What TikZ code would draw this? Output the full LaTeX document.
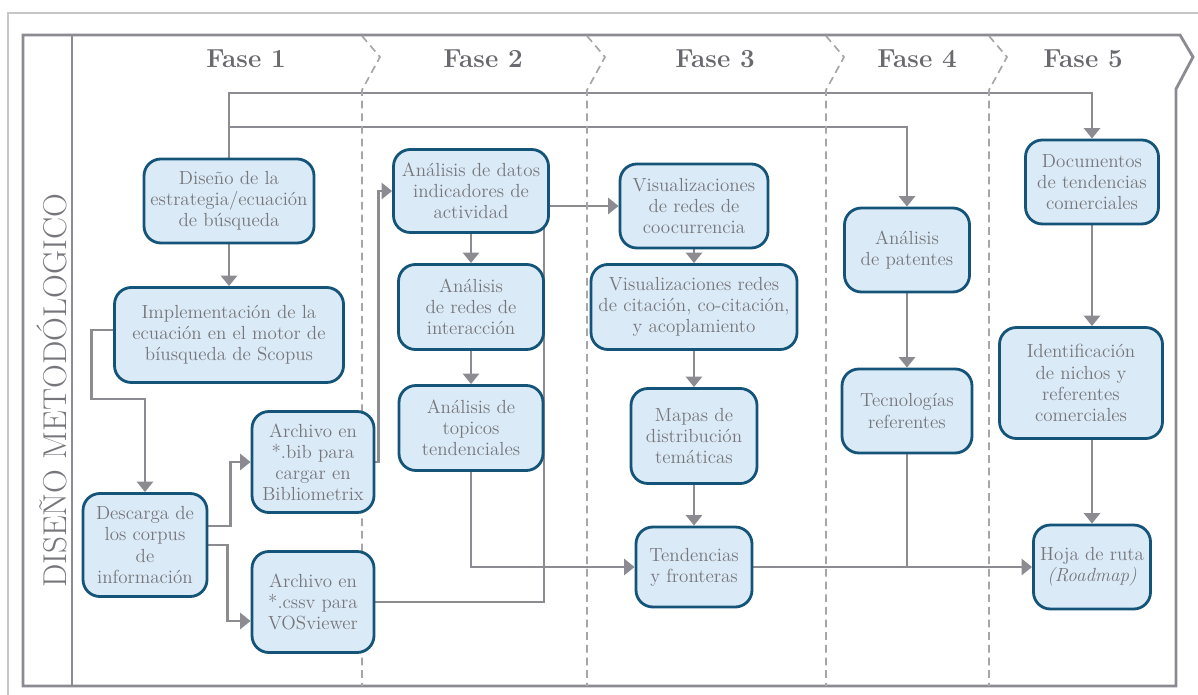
\documentclass[tikz,border=0pt]{standalone}
\usepackage{fontspec}
\usetikzlibrary{arrows.meta,calc,backgrounds}
\definecolor{linegray}{RGB}{140,139,145}
\definecolor{dashgray}{RGB}{165,165,170}
\definecolor{txtgray}{RGB}{118,118,123}
\definecolor{hdgray}{RGB}{105,105,110}
\definecolor{boxfill}{RGB}{218,234,247}
\definecolor{boxline}{RGB}{20,84,120}
\tikzset{>={Triangle[length=7.5pt,width=11.5pt]}}
\tikzset{
  box/.style={draw=boxline, line width=2pt, fill=boxfill, rounded corners=12pt,
    align=center, text=txtgray, font=\fontsize{13.5}{15}\selectfont, inner sep=2pt},
  sz/.style 2 args={minimum width=#1*0.025cm, minimum height=#2*0.025cm},
  flow/.style={draw=linegray, line width=2pt},
  phase/.style={draw=dashgray, line width=1.2pt, dash pattern=on 5.5pt off 3.5pt},
  head/.style={text=hdgray, font=\bfseries\fontsize{18.5}{18.5}\selectfont}
}

\begin{document}
\begin{tikzpicture}[x=0.025cm, y=-0.025cm]
\useasboundingbox (0,0) rectangle (1198,695);
% frame
\draw[gray!45, line width=0.8pt] (1198,13) -- (8,13) -- (8,695);
\draw[linegray, line width=2pt] (23,35) -- (1180,35) -- (1193,57) -- (1176,89) -- (1176,686) -- (23,686) -- cycle;
\draw[linegray, line width=2pt] (72,35) -- (72,686);
\foreach \x in {362,587,826,989}
\draw[phase] (\x,36) -- (\x+18,57) -- (\x,90) -- (\x,686);
\foreach \x/\n in {246/1,483/2,715/3,917/4,1083/5}
\node[head] (f\n) at (\x,59) {Fase \n};
\node[rotate=90, text=txtgray, font=\fontsize{23.5}{23.5}\selectfont] (lbl) at (52,391) {DISEÑO METODÓLOGICO};

% fase 1
\node[box, sz={170}{84}] (d1) at (229,201) {Diseño de la\\estrategia/ecuación\\de búsqueda};
\node[box, sz={229}{95}] (impl) at (229,335) {Implementación de la\\ecuación en el motor de\\bíusqueda de Scopus};
\node[box, sz={124}{103}] (desc) at (145,545) {Descarga de\\los corpus\\de\\información};
\node[box, sz={122}{101}] (bib) at (313,462) {Archivo en\\*.bib para\\cargar en\\Bibliometrix};
\node[box, sz={122}{101}] (csv) at (313,602) {Archivo en\\*.cssv para\\VOSviewer};
% fase 2
\node[box, sz={155}{83}] (adat) at (471,191) {Análisis de datos\\indicadores de\\actividad};
\node[box, sz={145}{85}] (ared) at (471,307) {Análisis\\de redes de\\interacción};
\node[box, sz={144}{85}] (atop) at (471,428) {Análisis de\\topicos\\tendenciales};
% fase 3
\node[box, sz={148}{84}] (vcoo) at (694,206) {Visualizaciones\\de redes de\\coocurrencia};
\node[box, sz={206}{85}] (vcit) at (694,307) {Visualizaciones redes\\de citación, co-citación,\\y acoplamiento};
\node[box, sz={126}{95}] (mapas) at (694,436) {Mapas de\\distribución\\temáticas};
\node[box, sz={116}{80}] (tend) at (694,567) {Tendencias\\y fronteras};
% fase 4
\node[box, sz={125}{84}] (apat) at (907,250) {Análisis\\de patentes};
\node[box, sz={130}{84}] (tecn) at (907,411) {Tecnologías\\referentes};
% fase 5
\node[box, sz={133}{84}] (doc) at (1092,182) {Documentos\\de tendencias\\comerciales};
\node[box, sz={163}{111}] (ident) at (1081,383) {Identificación\\de nichos y\\referentes\\comerciales};
\node[box, sz={117}{84}] (hoja) at (1092,567) {Hoja de ruta\\\textit{(Roadmap)}};

\coordinate (ytop) at (0,93);
\coordinate (ymid) at (0,127);
\begin{scope}[on background layer]
\draw[flow,->] (d1.north) |- (doc.north |- ytop) -- (doc.north);
\draw[flow,->] (d1.north |- ymid) -| (apat.north);
\draw[flow,->] (d1.south) -- (impl.north);
\draw[flow,->] ($(impl.west)+(0,-5)$) -- ++(-22,0) -- ++(0,69) -| (desc.north);
\draw[flow,->] ($(desc.east)+(0,-19)$) -- ++(22,0) |- (bib.west);
\draw[flow,->] (desc.east) -- ++(19,0) |- ($(csv.west)+(0,19)$);
\draw[flow,->] (bib.east) -- ++(3,0) |- (adat.west);
\draw[flow] (csv.east) -| ($(adat.south east)+(-6,-6)$);
\draw[flow,->] (adat.east |- vcoo.west) -- (vcoo.west);
\draw[flow,->] (adat.south) -- (ared.north);
\draw[flow,->] (ared.south) -- (atop.north);
\draw[flow,->] (atop.south) |- (tend.west);
\draw[flow,->] (vcoo.south) -- (vcit.north);
\draw[flow,->] (vcit.south) -- (mapas.north);
\draw[flow,->] (mapas.south) -- (tend.north);
\draw[flow,->] (tend.east) -- (hoja.west);
\draw[flow] (tecn.south) -- (tecn.south |- tend.east);
\draw[flow,->] (apat.south) -- (tecn.north);
\draw[flow,->] (doc.south) -- (doc.south |- ident.north);
\draw[flow,->] (hoja.north |- ident.south) -- (hoja.north);
\end{scope}
\end{tikzpicture}
\end{document}
